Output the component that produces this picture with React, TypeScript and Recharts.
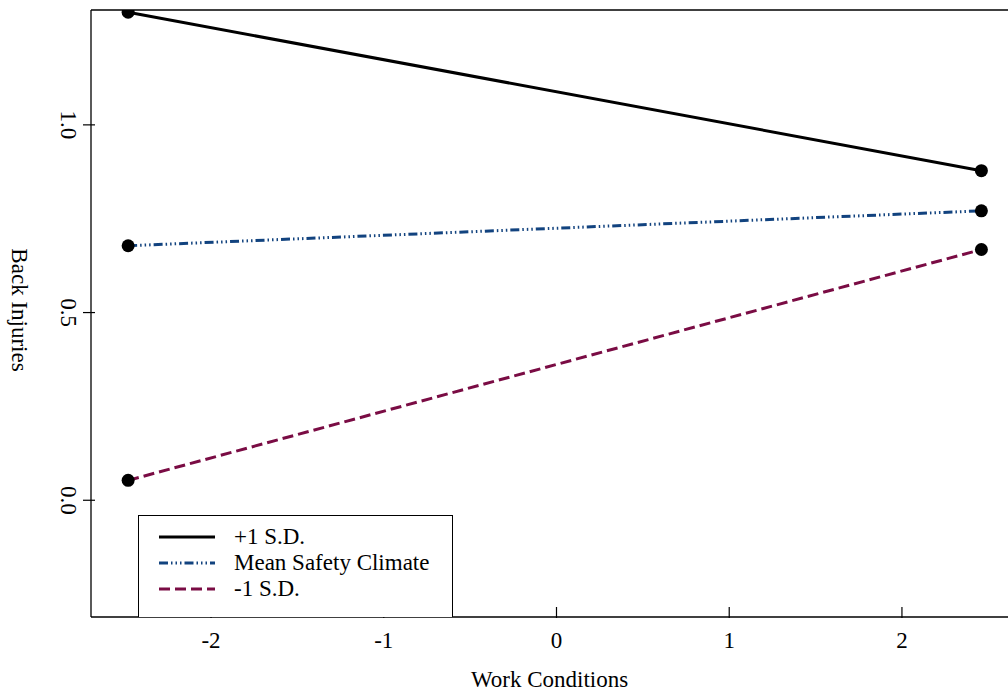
import React from 'react';
import { LineChart, Line, XAxis, YAxis, ReferenceLine } from 'recharts';

// values
const workConditions = [-2.48, 2.46];
const plusSD = [1.3, 0.878];
const meanSafety = [0.678, 0.771];
const minusSD = [0.053, 0.668];
const xTicks = [-2, -1, 0, 1, 2];
const yTicks = [0, 0.5, 1.0];

const chartData = workConditions.map((x, i) => ({
  x,
  plus: plusSD[i],
  mean: meanSafety[i],
  minus: minusSD[i],
}));

const FONT = '"Liberation Serif", "DejaVu Serif", serif';
const FS = 23;
const BLUE = '#12437f';
const MAROON = '#7a0c44';
const BLUE_DASH = '9 3 1.5 3 1.5 3 1.5 3';
const MAROON_DASH = '11 5';
const Y_MAX = 1.306;

const YTick = (props: any) => {
  const { x, y, payload } = props;
  return (
    <g>
      <line x1={x - 8} x2={x + 4} y1={y} y2={y} stroke="#000" strokeWidth={1.2} />
      <text
        x={x - 23}
        y={y}
        transform={`rotate(90, ${x - 23}, ${y})`}
        textAnchor="middle"
        dominantBaseline="central"
        style={{ fontFamily: FONT, fontSize: FS }}
        fill="#000"
      >
        {payload.value.toFixed(1)}
      </text>
    </g>
  );
};

const XTick = (props: any) => {
  const { x, y, payload } = props;
  return (
    <g>
      <line x1={x} x2={x} y1={y - 10} y2={y + 1} stroke="#000" strokeWidth={1.2} />
      <text
        x={x}
        y={y + 23}
        textAnchor="middle"
        dominantBaseline="central"
        style={{ fontFamily: FONT, fontSize: FS }}
        fill="#000"
      >
        {payload.value}
      </text>
    </g>
  );
};

const dot = { r: 6.5, fill: '#000', stroke: 'none' };

const legendItems = [
  { label: '+1 S.D.', color: '#000', dash: undefined },
  { label: 'Mean Safety Climate', color: BLUE, dash: BLUE_DASH },
  { label: '-1 S.D.', color: MAROON, dash: MAROON_DASH },
];

const App: React.FC = () => {
  return (
    <div style={{ position: 'absolute', left: 0, top: 0, width: 1008, height: 693, background: '#fff' }}>
      <LineChart
        width={1008}
        height={693}
        data={chartData}
        margin={{ top: 10, right: 0, left: 0, bottom: 0 }}
      >
        <XAxis
          dataKey="x"
          type="number"
          domain={[-2.695, 2.614]}
          ticks={xTicks}
          allowDataOverflow
          height={76}
          tickSize={0}
          tickMargin={0}
          tickLine={false}
          axisLine={{ stroke: '#000', strokeWidth: 1.3 }}
          tick={<XTick />}
          label={{ value: 'Work Conditions', position: 'insideBottom', offset: 6, style: { fontFamily: FONT, fontSize: FS }, fill: '#000' }}
        />
        <YAxis
          type="number"
          domain={[-0.311, Y_MAX]}
          ticks={yTicks}
          allowDataOverflow
          width={91}
          tickSize={0}
          tickMargin={0}
          tickLine={false}
          axisLine={{ stroke: '#000', strokeWidth: 1.3 }}
          tick={<YTick />}
        />
        {/* top edge of the frame */}
        <ReferenceLine y={Y_MAX} stroke="#000" strokeWidth={1.3} ifOverflow="visible" />
        <Line
          dataKey="plus"
          stroke="#000"
          strokeWidth={3}
          dot={dot}
          activeDot={false}
          isAnimationActive={false}
        />
        <Line
          dataKey="mean"
          stroke={BLUE}
          strokeWidth={3}
          strokeDasharray={BLUE_DASH}
          dot={dot}
          activeDot={false}
          isAnimationActive={false}
        />
        <Line
          dataKey="minus"
          stroke={MAROON}
          strokeWidth={3}
          strokeDasharray={MAROON_DASH}
          dot={dot}
          activeDot={false}
          isAnimationActive={false}
        />
      </LineChart>

      {/* y axis title, rotated clockwise like the reference */}
      <div
        style={{
          position: 'absolute',
          left: 19,
          top: 310,
          transform: 'translate(-50%, -50%) rotate(90deg)',
          fontFamily: FONT,
          fontSize: FS,
          whiteSpace: 'nowrap',
        }}
      >
        Back Injuries
      </div>

      {/* legend box */}
      <div
        style={{
          position: 'absolute',
          left: 138,
          top: 515,
          width: 313,
          height: 101,
          border: '1.3px solid #000',
          borderBottom: 'none',
          background: '#fff',
          fontFamily: FONT,
          fontSize: FS,
        }}
      >
        {legendItems.map((item, i) => (
          <div key={item.label} style={{ position: 'absolute', left: 20, top: 8 + i * 26, height: 26, display: 'flex', alignItems: 'center' }}>
            <svg width={56} height={10}>
              <line x1={0} x2={56} y1={5} y2={5} stroke={item.color} strokeWidth={3} strokeDasharray={item.dash} />
            </svg>
            <span style={{ marginLeft: 19 }}>{item.label}</span>
          </div>
        ))}
      </div>
    </div>
  );
};

export default App;
